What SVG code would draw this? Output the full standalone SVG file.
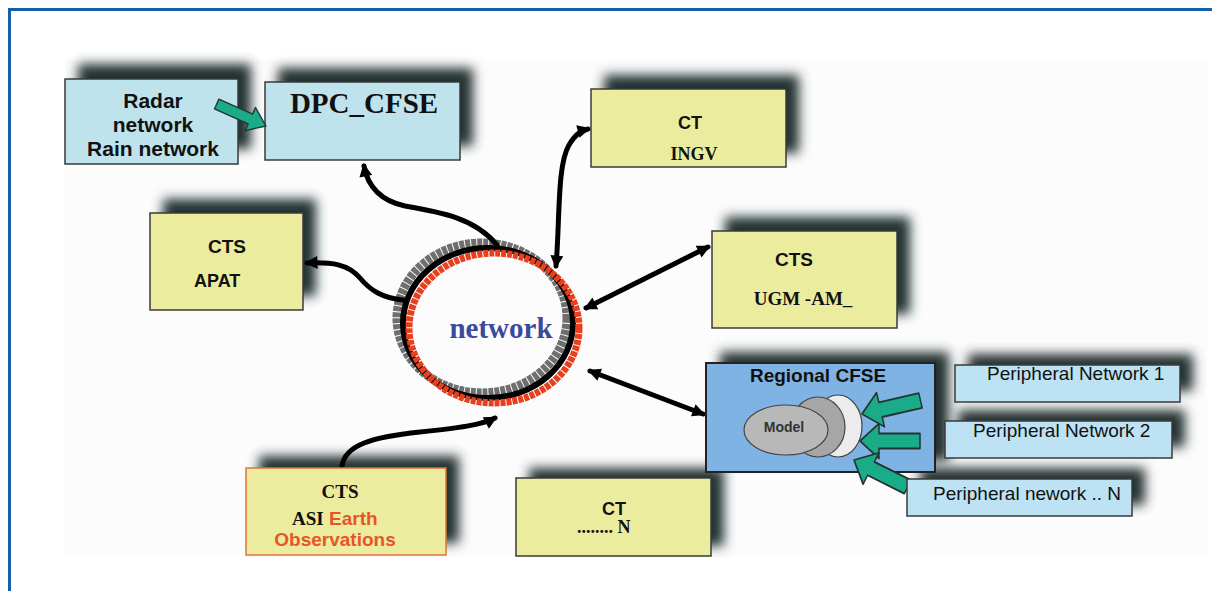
<svg xmlns="http://www.w3.org/2000/svg" width="1212" height="591" viewBox="0 0 1212 591">
<defs>
<style>
.sh{fill:#243333;filter:url(#blur)}
.bl{fill:#bfe3ec;stroke:#3a3a3a;stroke-width:1.5}
.ye{fill:#ecec9e;stroke:#3a3a3a;stroke-width:1.5}
.pb{fill:#bde2f3;stroke:#3a3a3a;stroke-width:1.5}
.sb{font-family:"Liberation Sans",Arial,sans-serif;font-weight:bold;fill:#111}
.sr{font-family:"Liberation Sans",Arial,sans-serif;fill:#111}
.tb{font-family:"Liberation Serif","Times New Roman",serif;font-weight:bold;fill:#111}
.con{fill:none;stroke:#000;stroke-width:5;stroke-linecap:round}
.ga{fill:#1aab88;stroke:#243333;stroke-width:1.5;stroke-linejoin:round}
</style>
<filter id="blur" x="-20%" y="-30%" width="140%" height="160%"><feGaussianBlur stdDeviation="6"/></filter>
<marker id="ah" viewBox="0 0 10 10" refX="8" refY="5" markerWidth="14" markerHeight="13" markerUnits="userSpaceOnUse" orient="auto-start-reverse">
<path d="M0,0 L10,5 L0,10 Z" fill="#000"/>
</marker>
<path id="fa" d="M-60,-6 L-19,-6 L-19,-14 L0,0 L-19,14 L-19,6 L-60,6 Z"/>
</defs>
<rect width="1212" height="591" fill="#fff"/>
<rect x="65" y="60" width="1142" height="497" fill="#fcfcfc"/>
<g id="frame">
<line x1="8" y1="9.5" x2="1212" y2="9.5" stroke="#1560ad" stroke-width="3"/>
<line x1="9.5" y1="8" x2="9.5" y2="591" stroke="#1560ad" stroke-width="3"/>
</g>
<g id="shadows">
<rect class="sh" x="78" y="64" width="173" height="85"/>
<rect class="sh" x="278" y="68" width="195" height="78"/>
<rect class="sh" x="604" y="75" width="195" height="78"/>
<rect class="sh" x="725" y="217" width="185" height="97"/>
<rect class="sh" x="163" y="199" width="153" height="97"/>
<rect class="sh" x="720" y="352" width="229" height="109"/>
<rect class="sh" x="968" y="354" width="225" height="37"/>
<rect class="sh" x="958" y="410" width="227" height="37"/>
<rect class="sh" x="920" y="468" width="225" height="37"/>
<rect class="sh" x="259" y="456" width="200" height="87"/>
<rect class="sh" x="529" y="468" width="195" height="78"/>
</g>
<g id="network">
<ellipse cx="482" cy="318" rx="85" ry="75" fill="none" stroke="#6f6f6f" stroke-width="9" stroke-dasharray="5 1"/>
<ellipse cx="488" cy="323" rx="85" ry="75" fill="none" stroke="#000" stroke-width="6"/>
<ellipse cx="494" cy="328" rx="85" ry="75" fill="none" stroke="#e8401f" stroke-width="7" stroke-dasharray="5 1"/>
<text x="501" y="338" text-anchor="middle" font-family="Liberation Serif, Times New Roman, serif" font-weight="bold" font-size="29" fill="#3b4a9c">network</text>
</g>
<g id="connectors">
<path class="con" d="M497,245 C475,218 440,212 405,206 C382,201 368,188 364,166" marker-end="url(#ah)"/>
<path class="con" d="M556,266 C560,220 557,165 569,145 C575,135 580,131 588,129" marker-start="url(#ah)" marker-end="url(#ah)"/>
<path class="con" d="M586,308 L708,247" marker-start="url(#ah)" marker-end="url(#ah)"/>
<path class="con" d="M403,300 C382,298 370,290 360,278 C348,264 332,262 307,263" marker-end="url(#ah)"/>
<path class="con" d="M590,371 L703,414" marker-start="url(#ah)" marker-end="url(#ah)"/>
<path class="con" d="M342,466 C345,445 372,437 420,432 C458,428 482,425 495,418" marker-end="url(#ah)"/>
</g>
<g id="radar">
<rect class="bl" x="65" y="79" width="173" height="85"/>
<text class="sb" font-size="21" text-anchor="middle"><tspan x="153" y="108">Radar</tspan><tspan x="153" y="132">network</tspan><tspan x="153" y="156">Rain network</tspan></text>
</g>
<g id="dpc">
<rect class="bl" x="265" y="82" width="195" height="78"/>
<text class="tb" font-size="29" x="364" y="113" text-anchor="middle">DPC_CFSE</text>
</g>
<g id="radar-arrow">
<use href="#fa" class="ga" transform="translate(266,126) rotate(24) scale(0.9)"/>
</g>
<g id="ingv">
<rect class="ye" x="591" y="89" width="195" height="78"/>
<text class="sb" font-size="18" x="690" y="129" text-anchor="middle">CT</text>
<text class="tb" font-size="18" x="694" y="160" text-anchor="middle">INGV</text>
</g>
<g id="ugm">
<rect class="ye" x="712" y="231" width="185" height="97"/>
<text class="sb" font-size="19" x="794" y="266" text-anchor="middle">CTS</text>
<text class="tb" font-size="19" x="803" y="305" text-anchor="middle">UGM -AM_</text>
</g>
<g id="apat">
<rect class="ye" x="150" y="213" width="153" height="97"/>
<text class="sb" font-size="19" x="227" y="253" text-anchor="middle">CTS</text>
<text class="sb" font-size="18" x="194" y="287">APAT</text>
</g>
<g id="regional">
<rect x="706" y="363" width="229" height="109" fill="#7fb3e3" stroke="#222" stroke-width="2"/>
<text class="sb" font-size="19" x="818" y="382" text-anchor="middle">Regional CFSE</text>
<ellipse cx="838" cy="426" rx="24" ry="31" fill="#ececec" stroke="#444" stroke-width="1.2"/>
<ellipse cx="818" cy="427" rx="27" ry="30" fill="#a6a6a6" stroke="#444" stroke-width="1.2"/>
<ellipse cx="786" cy="430" rx="42" ry="25" fill="#b8b8b8" stroke="#444" stroke-width="1.2"/>
<text class="sb" font-size="14" x="784" y="432" text-anchor="middle" style="fill:#333">Model</text>
<use href="#fa" class="ga" transform="translate(862,414) rotate(167) scale(1,1.25)"/>
<use href="#fa" class="ga" transform="translate(860,441) rotate(180) scale(1,1.25)"/>
<use href="#fa" class="ga" transform="translate(854,460) rotate(206.6) scale(1,1.25)"/>
</g>
<g id="pn1">
<rect class="pb" x="955" y="365" width="225" height="37"/>
<text class="sr" font-size="19" x="987" y="380">Peripheral Network 1</text>
</g>
<g id="pn2">
<rect class="pb" x="945" y="421" width="227" height="37"/>
<text class="sr" font-size="19" x="973" y="437">Peripheral Network 2</text>
</g>
<g id="pnn">
<rect class="pb" x="907" y="479" width="225" height="37"/>
<text class="sr" font-size="19" x="933" y="500">Peripheral nework .. N</text>
</g>
<g id="asi">
<rect x="246" y="468" width="200" height="87" fill="#ecec9e" stroke="#e0733a" stroke-width="1.5"/>
<text class="tb" font-size="19" x="340" y="498" text-anchor="middle">CTS</text>
<text font-size="19" x="292" y="525"><tspan class="tb">ASI</tspan><tspan x="329" font-family="Liberation Sans, Arial, sans-serif" font-weight="bold" fill="#e8552a">Earth</tspan></text>
<text font-family="Liberation Sans, Arial, sans-serif" font-weight="bold" font-size="19" fill="#e8552a" x="335" y="546" text-anchor="middle">Observations</text>
</g>
<g id="ctn">
<rect class="ye" x="516" y="478" width="195" height="78"/>
<text class="sb" font-size="18" x="614" y="515" text-anchor="middle">CT</text>
<text class="tb" font-size="18" x="577" y="533">........ N</text>
</g>
</svg>
